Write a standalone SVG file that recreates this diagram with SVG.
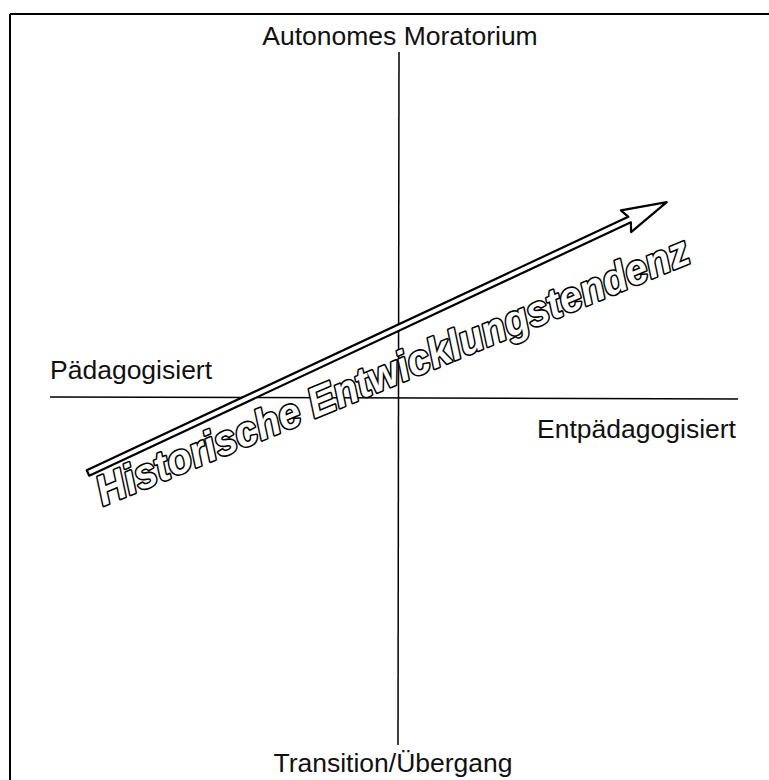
<svg xmlns="http://www.w3.org/2000/svg" width="769" height="780" viewBox="0 0 769 780">
<style>
.frame{stroke:#000;stroke-width:2;fill:none}
.axis{stroke:#000;stroke-width:1.5;fill:none}
.lbl{font-family:"Liberation Sans",Arial,sans-serif;font-size:26.5px;fill:#111}
.arrow{fill:#fff;stroke:#000;stroke-width:2.2;stroke-linejoin:round}
.trend{font-family:"Liberation Sans",Arial,sans-serif;font-size:42px;font-weight:bold;font-style:italic;fill:#fff;stroke:#000;stroke-width:3.2;paint-order:stroke fill;stroke-linejoin:round}
</style>
<rect width="769" height="780" fill="#fff"/>
<g id="frame">
<path class="frame" d="M10,14 H769 M10,14 V780"/>
</g>
<g id="connectors">
<line class="axis" x1="399" y1="52" x2="398" y2="745"/>
<line class="axis" x1="50" y1="397" x2="738" y2="399"/>
</g>
<g id="top"><text class="lbl" x="400" y="45" text-anchor="middle">Autonomes Moratorium</text></g>
<g id="left"><text class="lbl" x="50" y="379">Pädagogisiert</text></g>
<g id="right"><text class="lbl" x="736" y="438" text-anchor="end">Entpädagogisiert</text></g>
<g id="bottom"><text class="lbl" x="393" y="772" text-anchor="middle">Transition/Übergang</text></g>
<g id="trend-arrow" transform="translate(88,473) rotate(-25.08)">
<path class="arrow" d="M0,-3 L598,-3 L594,-12 L639,0 L594,12 L598,3 L0,3 Z"/>
</g>
<g id="trend-label">
<text class="trend" transform="translate(103,506) rotate(-22.5)" textLength="638" lengthAdjust="spacingAndGlyphs">Historische Entwicklungstendenz</text>
</g>
</svg>
